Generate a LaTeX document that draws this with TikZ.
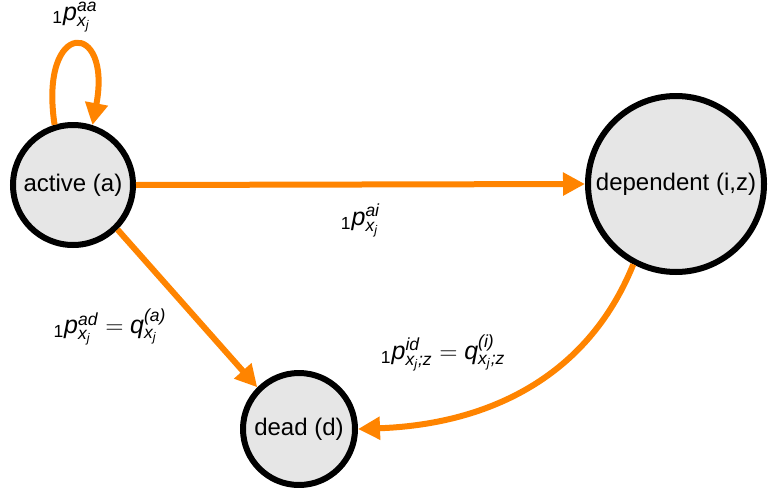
\documentclass[tikz,border=0pt]{standalone}
\usepackage{fontspec}
\usepackage{amsmath}
\setmainfont{Liberation Sans}
\usetikzlibrary{arrows.meta,positioning}
\definecolor{stategray}{HTML}{E6E6E6}
\definecolor{flowor}{HTML}{FF8400}
\newcommand{\mi}[1]{\textit{#1}}
\newcommand{\tp}[2]{{}_{\textup{1}}\mi{p}^{\mi{#1}}_{#2}}
\newcommand{\xj}{\mi{x}_{\mi{j}}}

\begin{document}
\begin{tikzpicture}[
    x=0.5pt, y=-0.5pt,
    every node/.style={font=\fontsize{12}{14}\selectfont, align=center},
    state/.style={
      circle, draw, line width=3pt,
      fill=stategray, inner sep=0pt
    },
    lbl/.style={text=black, font=\fontsize{12.5}{15}\selectfont},
    arrow/.style={-{Triangle[length=11pt, width=11pt]}, line width=3pt, flowor},
  ]
  \useasboundingbox (0,0) rectangle (770,487);

  % --- States ---
  \node[state, minimum size=60pt] (active) at (73,185) {active (a)};
  \node[state, minimum size=88pt] (dependent) at (676,184) {dependent (i,z)};
  \node[state, minimum size=56pt] (dead) at (299,429) {dead (d)};

  % --- Transitions ---
  \draw[arrow] (active.107) .. controls +(-16,-106) and +(20,-106) .. (active.72)
    node[pos=0.5, above=2pt, lbl] {$\tp{aa}{\xj}$};
  \draw[arrow] (active.east) -- (dependent.west)
    node[midway, below=5pt, lbl] {$\tp{ai}{\xj}$};
  \draw[arrow] (active.-45) -- (dead.135)
    node[pos=0.62, left=14pt, lbl] {$\tp{ad}{\xj} = \mi{q}^{\mi{(a)}}_{\xj}$};
  \draw[arrow] (dependent.242) to[out=-112, in=2]
    node[pos=0.5, above left=4pt and 5pt, lbl]
      {$\tp{id}{\xj\mi{;z}} = \mi{q}^{\mi{(i)}}_{\xj\mi{;z}}$}
    (dead.east);
\end{tikzpicture}
\end{document}
